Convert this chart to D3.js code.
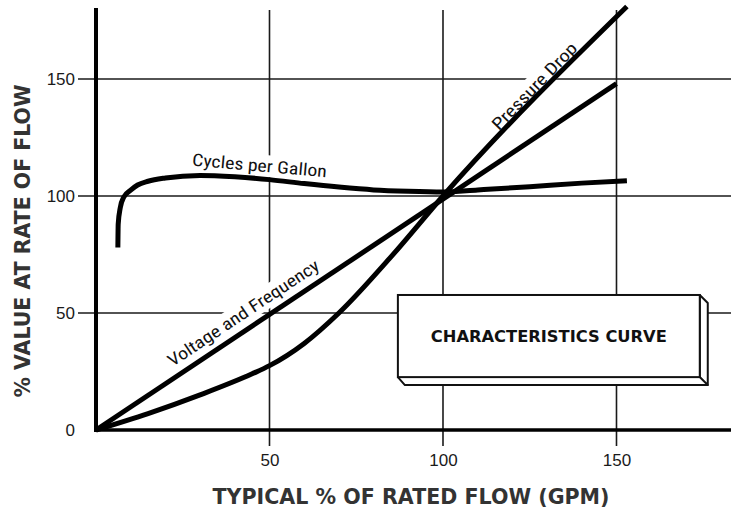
<!DOCTYPE html>
<html>
<head>
<meta charset="utf-8">
<script src="https://cdn.jsdelivr.net/npm/d3@7"></script>
<style>
  body { margin: 0; background: #fff; }
</style>
</head>
<body>
<script>
// values (x = % of rated flow, y = % value)
var flowTicks = [50, 100, 150];
var valueTicks = [0, 50, 100, 150];

var cyclesPerGallon = [[6.3, 78], [6.4, 88], [7, 95], [8, 99.5], [10, 102.5], [12, 104.7],
  [15, 106.3], [20, 107.7], [30, 108.8], [40, 108.2], [50, 107], [60, 105.3], [70, 103.8],
  [80, 102.6], [90, 102], [100, 101.7], [110, 102.6], [125, 104], [140, 105.5], [153, 106.5]];
var voltageFrequency = [[0, 0], [150, 148]];
var pressureDrop = [[0, 0], [15, 7], [30, 15], [45, 24], [50, 27.5], [60, 37], [70, 50],
  [85, 74], [100, 100], [153, 181]];

var width = 736;
var height = 513;

var xScale = d3.scaleLinear()
               .domain([0, 183])
               .range([96, 731]);

var yScale = d3.scaleLinear()
               .domain([0, 180])
               .range([430, 8.8]);

var narrow = "'Liberation Sans Narrow', 'Arial Narrow', 'Roboto Condensed', sans-serif";
var plain = "'Liberation Sans', Arial, sans-serif";
var heavy = "'DejaVu Sans', Verdana, sans-serif";

var svg = d3.select("body")
            .append("svg")
            .attr("width", width)
            .attr("height", height);

// grid lines (also work as tick marks)
svg.selectAll(".hgrid")
   .data(flowTicks)
   .enter()
   .append("line")
   .attr("class", "hgrid")
   .attr("x1", 78)
   .attr("x2", 731)
   .attr("y1", function(d){ return yScale(d); })
   .attr("y2", function(d){ return yScale(d); })
   .attr("stroke", "#1a1a1a")
   .attr("stroke-width", 1.6);

svg.selectAll(".vgrid")
   .data(flowTicks)
   .enter()
   .append("line")
   .attr("class", "vgrid")
   .attr("x1", function(d){ return xScale(d); })
   .attr("x2", function(d){ return xScale(d); })
   .attr("y1", 10)
   .attr("y2", 446)
   .attr("stroke", "#1a1a1a")
   .attr("stroke-width", 1.6);

// the 3d box
var bx0 = xScale(87), bx1 = xScale(174);
var by0 = yScale(57.7), by1 = yScale(22.6);
var depth = 8;
var box = svg.append("g");
box.append("polygon")
   .attr("points", [[bx1, by0], [bx1 + depth, by0 + depth], [bx1 + depth, by1 + depth], [bx1, by1]].join(" "))
   .attr("fill", "#fff").attr("stroke", "#111").attr("stroke-width", 2).attr("stroke-linejoin", "round");
box.append("polygon")
   .attr("points", [[bx0, by1], [bx0 + depth - 1, by1 + depth], [bx1 + depth, by1 + depth], [bx1, by1]].join(" "))
   .attr("fill", "#fff").attr("stroke", "#111").attr("stroke-width", 2).attr("stroke-linejoin", "round");
box.append("rect")
   .attr("x", bx0).attr("y", by0)
   .attr("width", bx1 - bx0).attr("height", by1 - by0)
   .attr("fill", "#fff").attr("stroke", "#111").attr("stroke-width", 2);
box.append("text")
   .attr("x", (bx0 + bx1) / 2)
   .attr("y", (by0 + by1) / 2 + 6)
   .attr("text-anchor", "middle")
   .attr("font-family", heavy)
   .attr("font-weight", "bold")
   .attr("font-size", 16)
   .attr("textLength", 236)
   .attr("lengthAdjust", "spacingAndGlyphs")
   .attr("fill", "#111")
   .text("CHARACTERISTICS CURVE");

// curve labels with white backing so grid lines break around them
var angleOf = function(p, q){
  return Math.atan2(yScale(q[1]) - yScale(p[1]), xScale(q[0]) - xScale(p[0])) * 180 / Math.PI;
};

var addLabel = function(text, px, py, angle, offset, len){
  var g = svg.append("g")
             .attr("transform", "translate(" + px + "," + py + ") rotate(" + angle + ")");
  var t = g.append("text")
           .attr("x", 0)
           .attr("y", offset)
           .attr("text-anchor", "middle")
           .attr("font-family", narrow)
           .attr("font-size", 17)
           .attr("textLength", len)
           .attr("lengthAdjust", "spacingAndGlyphs")
           .attr("fill", "#111")
           .text(text);
  var bb = t.node().getBBox();
  g.insert("rect", "text")
   .attr("x", bb.x - 3).attr("y", bb.y - 1)
   .attr("width", bb.width + 6).attr("height", bb.height + 2)
   .attr("fill", "#fff");
};

addLabel("Cycles per Gallon", xScale(47), yScale(110.5), 5, 0, 135);
var vAng = angleOf(voltageFrequency[0], voltageFrequency[1]);
addLabel("Voltage and Frequency", xScale(45), yScale(45 * 148 / 150), vAng, -10, 178);
var pAng = angleOf(pressureDrop[8], pressureDrop[9]);
addLabel("Pressure Drop", xScale(128.6), yScale(100 + 28.6 * 81 / 53), pAng, -5, 114);

// curves
var line = d3.line()
             .x(function(d){ return xScale(d[0]); })
             .y(function(d){ return yScale(d[1]); })
             .curve(d3.curveMonotoneX);

svg.selectAll(".curve")
   .data([cyclesPerGallon, voltageFrequency, pressureDrop])
   .enter()
   .append("path")
   .attr("class", "curve")
   .attr("d", line)
   .attr("fill", "none")
   .attr("stroke", "#000")
   .attr("stroke-width", 5)
   .attr("stroke-linejoin", "round");

// axes lines
svg.append("line")
   .attr("x1", xScale(0)).attr("x2", xScale(0))
   .attr("y1", 8).attr("y2", 432)
   .attr("stroke", "#000").attr("stroke-width", 4);
svg.append("line")
   .attr("x1", 94).attr("x2", 731)
   .attr("y1", yScale(0)).attr("y2", yScale(0))
   .attr("stroke", "#000").attr("stroke-width", 3.5);

// tick labels
var yAxis = svg.append("g")
               .attr("transform", "translate(" + xScale(0) + ",0)")
               .call(d3.axisLeft(yScale).tickValues(valueTicks).tickSize(0).tickPadding(21));
var xAxis = svg.append("g")
               .attr("transform", "translate(0," + yScale(0) + ")")
               .call(d3.axisBottom(xScale).tickValues(flowTicks).tickSize(0).tickPadding(24));
[yAxis, xAxis].forEach(function(a){
  a.select(".domain").remove();
  a.selectAll("text")
   .style("font-family", plain)
   .style("font-size", "17px")
   .attr("fill", "#1a1a1a");
});

// titles
svg.append("text")
   .attr("x", 411)
   .attr("y", 504)
   .attr("text-anchor", "middle")
   .attr("font-family", heavy)
   .attr("font-weight", "bold")
   .attr("font-size", 21)
   .attr("textLength", 397)
   .attr("lengthAdjust", "spacingAndGlyphs")
   .attr("fill", "#333")
   .text("TYPICAL % OF RATED FLOW (GPM)");

svg.append("text")
   .attr("transform", "translate(30,241) rotate(-90)")
   .attr("text-anchor", "middle")
   .attr("font-family", heavy)
   .attr("font-weight", "bold")
   .attr("font-size", 21)
   .attr("textLength", 313)
   .attr("lengthAdjust", "spacingAndGlyphs")
   .attr("fill", "#333")
   .text("% VALUE AT RATE OF FLOW");
</script>
</body>
</html>
